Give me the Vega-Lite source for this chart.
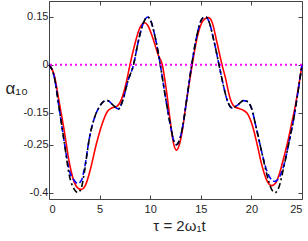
{
  "$schema": "https://vega.github.io/schema/vega-lite/v6.json",
  "width": 253,
  "height": 198,
  "autosize": {"type": "none"},
  "padding": {"left": 49, "top": 1, "right": 6, "bottom": 42},
  "background": "white",
  "config": {
    "font": "Liberation Sans",
    "view": {"stroke": "#444444", "strokeWidth": 1},
    "axis": {
      "domain": false,
      "grid": false,
      "ticks": true,
      "tickSize": -4,
      "tickColor": "#444444",
      "tickWidth": 1,
      "labelFont": "Liberation Sans",
      "labelFontSize": 11,
      "labelColor": "#262626",
      "titleFont": "Liberation Sans",
      "titleColor": "#262626",
      "titleFontWeight": "normal"
    }
  },
  "datasets": {
    "curves": [
      {"t": 0, "v": 0, "s": "red"},
      {"t": 0.5, "v": -0.03, "s": "red"},
      {"t": 1.0, "v": -0.115, "s": "red"},
      {"t": 1.5, "v": -0.205, "s": "red"},
      {"t": 2.0, "v": -0.305, "s": "red"},
      {"t": 2.5, "v": -0.368, "s": "red"},
      {"t": 2.9, "v": -0.387, "s": "red"},
      {"t": 3.2, "v": -0.39, "s": "red"},
      {"t": 3.6, "v": -0.377, "s": "red"},
      {"t": 4.0, "v": -0.338, "s": "red"},
      {"t": 4.68, "v": -0.248, "s": "red"},
      {"t": 5.2, "v": -0.19, "s": "red"},
      {"t": 5.77, "v": -0.146, "s": "red"},
      {"t": 6.2, "v": -0.135, "s": "red"},
      {"t": 6.7, "v": -0.13, "s": "red"},
      {"t": 7.2, "v": -0.105, "s": "red"},
      {"t": 7.6, "v": -0.06, "s": "red"},
      {"t": 8.0, "v": 0, "s": "red"},
      {"t": 8.5, "v": 0.067, "s": "red"},
      {"t": 8.9, "v": 0.11, "s": "red"},
      {"t": 9.2, "v": 0.128, "s": "red"},
      {"t": 9.45, "v": 0.132, "s": "red"},
      {"t": 9.75, "v": 0.124, "s": "red"},
      {"t": 10.3, "v": 0.08, "s": "red"},
      {"t": 10.8, "v": 0.03, "s": "red"},
      {"t": 11.2, "v": 0, "s": "red"},
      {"t": 11.6, "v": -0.08, "s": "red"},
      {"t": 12.0, "v": -0.18, "s": "red"},
      {"t": 12.3, "v": -0.245, "s": "red"},
      {"t": 12.6, "v": -0.267, "s": "red"},
      {"t": 12.9, "v": -0.248, "s": "red"},
      {"t": 13.2, "v": -0.2, "s": "red"},
      {"t": 13.6, "v": -0.11, "s": "red"},
      {"t": 14.15, "v": 0, "s": "red"},
      {"t": 14.6, "v": 0.08, "s": "red"},
      {"t": 15.0, "v": 0.125, "s": "red"},
      {"t": 15.4, "v": 0.144, "s": "red"},
      {"t": 15.75, "v": 0.148, "s": "red"},
      {"t": 16.1, "v": 0.135, "s": "red"},
      {"t": 16.6, "v": 0.07, "s": "red"},
      {"t": 17.1, "v": 0, "s": "red"},
      {"t": 17.43, "v": -0.04, "s": "red"},
      {"t": 17.9, "v": -0.105, "s": "red"},
      {"t": 18.3, "v": -0.13, "s": "red"},
      {"t": 18.7, "v": -0.136, "s": "red"},
      {"t": 19.2, "v": -0.142, "s": "red"},
      {"t": 19.7, "v": -0.157, "s": "red"},
      {"t": 20.1, "v": -0.19, "s": "red"},
      {"t": 20.56, "v": -0.248, "s": "red"},
      {"t": 21.0, "v": -0.31, "s": "red"},
      {"t": 21.5, "v": -0.36, "s": "red"},
      {"t": 22.0, "v": -0.378, "s": "red"},
      {"t": 22.4, "v": -0.37, "s": "red"},
      {"t": 22.8, "v": -0.338, "s": "red"},
      {"t": 23.2, "v": -0.29, "s": "red"},
      {"t": 23.6, "v": -0.24, "s": "red"},
      {"t": 24.0, "v": -0.18, "s": "red"},
      {"t": 24.4, "v": -0.118, "s": "red"},
      {"t": 24.7, "v": -0.06, "s": "red"},
      {"t": 25.0, "v": 0, "s": "red"},

      {"t": 0, "v": 0, "s": "blue"},
      {"t": 0.5, "v": -0.035, "s": "blue"},
      {"t": 1.0, "v": -0.135, "s": "blue"},
      {"t": 1.5, "v": -0.24, "s": "blue"},
      {"t": 2.0, "v": -0.33, "s": "blue"},
      {"t": 2.5, "v": -0.362, "s": "blue"},
      {"t": 2.85, "v": -0.372, "s": "blue"},
      {"t": 3.2, "v": -0.362, "s": "blue"},
      {"t": 3.5, "v": -0.325, "s": "blue"},
      {"t": 4.0, "v": -0.228, "s": "blue"},
      {"t": 4.5, "v": -0.165, "s": "blue"},
      {"t": 5.0, "v": -0.13, "s": "blue"},
      {"t": 5.5, "v": -0.113, "s": "blue"},
      {"t": 5.8, "v": -0.112, "s": "blue"},
      {"t": 6.3, "v": -0.125, "s": "blue"},
      {"t": 6.85, "v": -0.138, "s": "blue"},
      {"t": 7.3, "v": -0.11, "s": "blue"},
      {"t": 7.8, "v": -0.05, "s": "blue"},
      {"t": 8.35, "v": 0, "s": "blue"},
      {"t": 8.8, "v": 0.07, "s": "blue"},
      {"t": 9.2, "v": 0.12, "s": "blue"},
      {"t": 9.5, "v": 0.143, "s": "blue"},
      {"t": 9.75, "v": 0.15, "s": "blue"},
      {"t": 10.0, "v": 0.142, "s": "blue"},
      {"t": 10.5, "v": 0.085, "s": "blue"},
      {"t": 11.0, "v": 0, "s": "blue"},
      {"t": 11.5, "v": -0.1, "s": "blue"},
      {"t": 12.0, "v": -0.19, "s": "blue"},
      {"t": 12.3, "v": -0.235, "s": "blue"},
      {"t": 12.6, "v": -0.25, "s": "blue"},
      {"t": 12.9, "v": -0.235, "s": "blue"},
      {"t": 13.2, "v": -0.195, "s": "blue"},
      {"t": 13.6, "v": -0.11, "s": "blue"},
      {"t": 14.1, "v": 0, "s": "blue"},
      {"t": 14.6, "v": 0.09, "s": "blue"},
      {"t": 15.0, "v": 0.137, "s": "blue"},
      {"t": 15.25, "v": 0.148, "s": "blue"},
      {"t": 15.5, "v": 0.15, "s": "blue"},
      {"t": 15.75, "v": 0.14, "s": "blue"},
      {"t": 16.3, "v": 0.075, "s": "blue"},
      {"t": 16.8, "v": 0, "s": "blue"},
      {"t": 17.2, "v": -0.06, "s": "blue"},
      {"t": 17.6, "v": -0.11, "s": "blue"},
      {"t": 18.1, "v": -0.135, "s": "blue"},
      {"t": 18.6, "v": -0.127, "s": "blue"},
      {"t": 19.2, "v": -0.112, "s": "blue"},
      {"t": 19.6, "v": -0.115, "s": "blue"},
      {"t": 20.0, "v": -0.135, "s": "blue"},
      {"t": 20.5, "v": -0.2, "s": "blue"},
      {"t": 21.0, "v": -0.27, "s": "blue"},
      {"t": 21.5, "v": -0.33, "s": "blue"},
      {"t": 22.0, "v": -0.36, "s": "blue"},
      {"t": 22.3, "v": -0.365, "s": "blue"},
      {"t": 22.7, "v": -0.355, "s": "blue"},
      {"t": 23.2, "v": -0.315, "s": "blue"},
      {"t": 23.7, "v": -0.245, "s": "blue"},
      {"t": 24.2, "v": -0.165, "s": "blue"},
      {"t": 24.6, "v": -0.085, "s": "blue"},
      {"t": 25.0, "v": 0, "s": "blue"},

      {"t": 0, "v": 0, "s": "black"},
      {"t": 0.5, "v": -0.035, "s": "black"},
      {"t": 1.0, "v": -0.135, "s": "black"},
      {"t": 1.5, "v": -0.24, "s": "black"},
      {"t": 2.0, "v": -0.345, "s": "black"},
      {"t": 2.5, "v": -0.39, "s": "black"},
      {"t": 2.85, "v": -0.4, "s": "black"},
      {"t": 3.2, "v": -0.385, "s": "black"},
      {"t": 3.5, "v": -0.335, "s": "black"},
      {"t": 4.0, "v": -0.228, "s": "black"},
      {"t": 4.5, "v": -0.165, "s": "black"},
      {"t": 5.0, "v": -0.13, "s": "black"},
      {"t": 5.5, "v": -0.113, "s": "black"},
      {"t": 5.8, "v": -0.112, "s": "black"},
      {"t": 6.3, "v": -0.125, "s": "black"},
      {"t": 6.85, "v": -0.138, "s": "black"},
      {"t": 7.3, "v": -0.11, "s": "black"},
      {"t": 7.8, "v": -0.05, "s": "black"},
      {"t": 8.35, "v": 0, "s": "black"},
      {"t": 8.8, "v": 0.07, "s": "black"},
      {"t": 9.2, "v": 0.12, "s": "black"},
      {"t": 9.5, "v": 0.143, "s": "black"},
      {"t": 9.75, "v": 0.15, "s": "black"},
      {"t": 10.0, "v": 0.142, "s": "black"},
      {"t": 10.5, "v": 0.085, "s": "black"},
      {"t": 11.0, "v": 0, "s": "black"},
      {"t": 11.5, "v": -0.1, "s": "black"},
      {"t": 12.0, "v": -0.19, "s": "black"},
      {"t": 12.3, "v": -0.235, "s": "black"},
      {"t": 12.6, "v": -0.25, "s": "black"},
      {"t": 12.9, "v": -0.235, "s": "black"},
      {"t": 13.2, "v": -0.195, "s": "black"},
      {"t": 13.6, "v": -0.11, "s": "black"},
      {"t": 14.1, "v": 0, "s": "black"},
      {"t": 14.6, "v": 0.09, "s": "black"},
      {"t": 15.0, "v": 0.137, "s": "black"},
      {"t": 15.25, "v": 0.148, "s": "black"},
      {"t": 15.5, "v": 0.15, "s": "black"},
      {"t": 15.75, "v": 0.14, "s": "black"},
      {"t": 16.3, "v": 0.075, "s": "black"},
      {"t": 16.8, "v": 0, "s": "black"},
      {"t": 17.2, "v": -0.06, "s": "black"},
      {"t": 17.6, "v": -0.11, "s": "black"},
      {"t": 18.1, "v": -0.135, "s": "black"},
      {"t": 18.6, "v": -0.127, "s": "black"},
      {"t": 19.2, "v": -0.112, "s": "black"},
      {"t": 19.6, "v": -0.115, "s": "black"},
      {"t": 20.0, "v": -0.135, "s": "black"},
      {"t": 20.5, "v": -0.2, "s": "black"},
      {"t": 21.0, "v": -0.27, "s": "black"},
      {"t": 21.5, "v": -0.34, "s": "black"},
      {"t": 22.0, "v": -0.39, "s": "black"},
      {"t": 22.35, "v": -0.4, "s": "black"},
      {"t": 22.7, "v": -0.385, "s": "black"},
      {"t": 23.2, "v": -0.32, "s": "black"},
      {"t": 23.7, "v": -0.245, "s": "black"},
      {"t": 24.2, "v": -0.165, "s": "black"},
      {"t": 24.6, "v": -0.085, "s": "black"},
      {"t": 25.0, "v": 0, "s": "black"}
    ]
  },
  "data": {"name": "curves"},
  "resolve": {"axis": {"x": "independent", "y": "independent"}},
  "layer": [
    {
      "transform": [{"filter": "datum.s == 'red'"}],
      "mark": {"type": "line", "color": "#ff0000", "strokeWidth": 1.6, "interpolate": "monotone"},
      "encoding": {
        "x": {"field": "t", "type": "quantitative", "scale": {"domain": [0, 25], "nice": false, "zero": false},
          "axis": {"orient": "bottom", "values": [0, 5, 10, 15, 20, 25], "labelPadding": 8, "title": "τ = 2ω₁t", "titleFontSize": 15, "titlePadding": 4, "titleX": 130}},
        "y": {"field": "v", "type": "quantitative", "scale": {"domain": [-0.42, 0.2], "nice": false, "zero": false},
          "axis": {"orient": "left", "values": [-0.4, -0.25, -0.15, 0, 0.15], "labelPadding": 5, "labelExpr": "datum.value + ''", "title": "α₁₀", "titleAngle": 0, "titleFontSize": 17, "titleAlign": "left", "titleBaseline": "alphabetic", "titleX": -44, "titleY": 92}}
      }
    },
    {
      "transform": [{"filter": "datum.s == 'blue'"}],
      "mark": {"type": "line", "color": "#0000ff", "strokeWidth": 1.6, "strokeDash": [6, 3], "interpolate": "monotone"},
      "encoding": {
        "x": {"field": "t", "type": "quantitative", "axis": null},
        "y": {"field": "v", "type": "quantitative", "axis": null}
      }
    },
    {
      "transform": [{"filter": "datum.s == 'black'"}],
      "mark": {"type": "line", "color": "#000000", "strokeWidth": 1.6, "strokeDash": [6, 3, 2, 3], "interpolate": "monotone"},
      "encoding": {
        "x": {"field": "t", "type": "quantitative",
          "axis": {"orient": "top", "values": [0, 5, 10, 15, 20, 25], "labels": false, "title": null}},
        "y": {"field": "v", "type": "quantitative",
          "axis": {"orient": "right", "values": [-0.4, -0.25, -0.15, 0, 0.15], "labels": false, "title": null}}
      }
    },
    {
      "data": {"values": [{"v": 0}]},
      "mark": {"type": "rule", "color": "#ff00ff", "strokeWidth": 2, "strokeDash": [2, 3]},
      "encoding": {
        "y": {"field": "v", "type": "quantitative", "axis": null}
      }
    }
  ]
}
